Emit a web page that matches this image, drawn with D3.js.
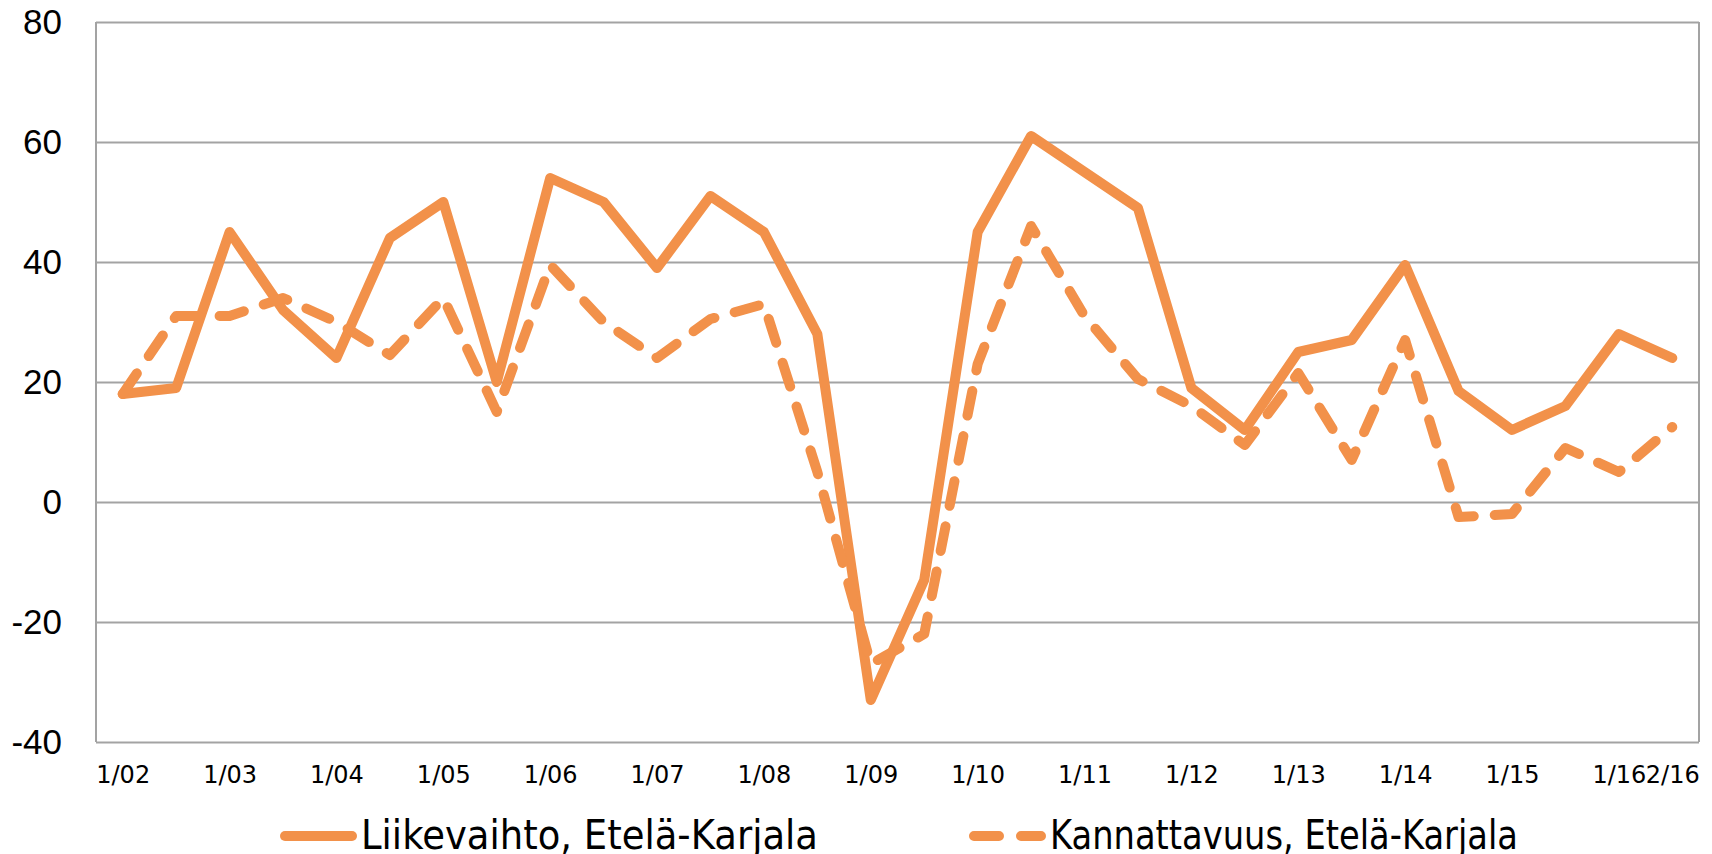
<!doctype html>
<html lang="fi">
<head>
  <meta charset="utf-8">
  <title>Liikevaihto ja kannattavuus, Etelä-Karjala</title>
  <style>
    body { margin: 0; background: #fff; }
    .y.axis text { font-family: "Liberation Sans", Arial, sans-serif; font-size: 35px; fill: #000; }
    .x.axis text { font-family: "DejaVu Sans", sans-serif; font-size: 24px; fill: #000; }
    .legend text { font-family: "DejaVu Sans", sans-serif; font-size: 40px; fill: #000; }
  </style>
</head>
<body>
  <script src="https://cdn.jsdelivr.net/npm/d3@7"></script>
  <script>
    var categories = [
      '1/02', '2/02', '1/03', '2/03', '1/04', '2/04', '1/05', '2/05', '1/06', '2/06',
      '1/07', '2/07', '1/08', '2/08', '1/09', '2/09', '1/10', '2/10', '1/11', '2/11',
      '1/12', '2/12', '1/13', '2/13', '1/14', '2/14', '1/15', '2/15', '1/16', '2/16'
    ]
    var liikevaihto = [
      18, 19, 45, 32, 24, 44, 50, 20, 54, 50,
      39, 51, 45, 28, -33, -13, 45, 61, 55, 49,
      19, 12, 25, 27, 39.5, 18.5, 12, 16, 28, 24
    ]
    var kannattavuus = [
      18, 31, 31, 34, 30, 24.5, 34, 15, 39.5, 30,
      24, 30.5, 33, 5, -27, -22, 23, 46, 31, 20.5,
      16, 9.5, 21.5, 7, 27, -2.5, -2, 9, 5, 12.5
    ]
    var yTicks = [-40, -20, 0, 20, 40, 60, 80]
    var seriesNames = ['Liikevaihto, Etelä-Karjala', 'Kannattavuus, Etelä-Karjala']

    var width = 1712
    var height = 854
    var plot = { left: 96, right: 1699, top: 22, bottom: 742 }
    var orange = '#f2914a'
    var gridColor = '#a3a3a3'

    var svg = d3.select('body').append('svg')
      .attr('width', width)
      .attr('height', height)

    var x = d3.scalePoint()
      .domain(categories)
      .range([plot.left, plot.right])
      .padding(0.5)

    var y = d3.scaleLinear()
      .domain([-40, 80])
      .range([plot.bottom, plot.top])

    // gridlines
    svg.append('g')
      .attr('class', 'grid')
      .attr('transform', 'translate(' + plot.left + ',0)')
      .call(d3.axisLeft(y).tickValues(yTicks).tickSize(-(plot.right - plot.left)).tickFormat(''))
      .call(function(g) { g.select('.domain').remove() })
      .selectAll('line')
        .attr('stroke', gridColor)
        .attr('stroke-width', 2)

    // frame: left axis and right edge
    svg.append('line')
      .attr('x1', plot.left).attr('x2', plot.left)
      .attr('y1', plot.top).attr('y2', plot.bottom)
      .attr('stroke', gridColor).attr('stroke-width', 2)
    svg.append('line')
      .attr('x1', plot.right).attr('x2', plot.right)
      .attr('y1', plot.top).attr('y2', plot.bottom)
      .attr('stroke', gridColor).attr('stroke-width', 2)

    // y axis labels (plain hyphen for negatives, as in the original)
    svg.append('g')
      .attr('class', 'y axis')
      .attr('transform', 'translate(62,0)')
      .call(d3.axisLeft(y).tickValues(yTicks).tickSize(0).tickPadding(0)
        .tickFormat(function(d) { return String(d) }))
      .call(function(g) { g.select('.domain').remove() })

    // x axis labels: every year start plus the last half-year
    svg.append('g')
      .attr('class', 'x axis')
      .attr('transform', 'translate(0,' + plot.bottom + ')')
      .call(d3.axisBottom(x).tickSize(0).tickPadding(24)
        .tickFormat(function(d, i) {
          return (i % 2 === 0 || i === categories.length - 1) ? d : ''
        }))
      .call(function(g) { g.select('.domain').remove() })

    var line = d3.line()
      .x(function(d, i) { return x(categories[i]) })
      .y(function(d) { return y(d) })

    svg.append('path')
      .datum(liikevaihto)
      .attr('d', line)
      .attr('fill', 'none')
      .attr('stroke', orange)
      .attr('stroke-width', 10)
      .attr('stroke-linejoin', 'round')
      .attr('stroke-linecap', 'round')

    svg.append('path')
      .datum(kannattavuus)
      .attr('d', line)
      .attr('fill', 'none')
      .attr('stroke', orange)
      .attr('stroke-width', 10)
      .attr('stroke-linejoin', 'round')
      .attr('stroke-linecap', 'round')
      .attr('stroke-dasharray', '25 21')

    // legend
    var legend = svg.append('g').attr('class', 'legend')
    var legendItems = [
      { name: seriesNames[0], x0: 285, textLen: 457, dash: null },
      { name: seriesNames[1], x0: 974, textLen: 468, dash: '25 22' }
    ]
    legendItems.forEach(function(item) {
      legend.append('line')
        .attr('x1', item.x0).attr('x2', item.x0 + 67)
        .attr('y1', 836).attr('y2', 836)
        .attr('stroke', orange)
        .attr('stroke-width', 10)
        .attr('stroke-linecap', 'round')
        .attr('stroke-dasharray', item.dash)
      legend.append('text')
        .attr('x', item.x0 + 76)
        .attr('y', 849)
        .attr('textLength', item.textLen)
        .attr('lengthAdjust', 'spacingAndGlyphs')
        .text(item.name)
    })
  </script>
</body>
</html>
